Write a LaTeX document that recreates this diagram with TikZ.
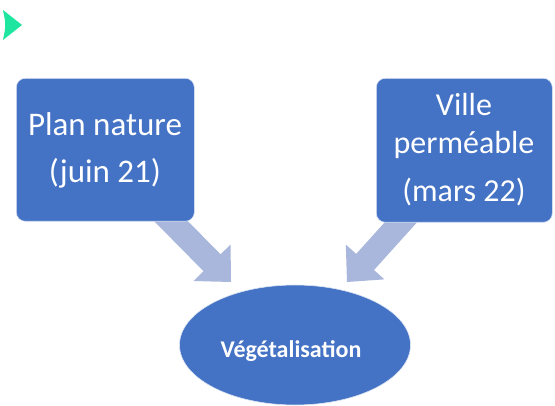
\documentclass[tikz,border=0pt]{standalone}
\usepackage{fontspec}
\setmainfont{Carlito}
\usetikzlibrary{calc,shapes.geometric}
\definecolor{boxblue}{RGB}{68,114,196}
\definecolor{arrowblue}{RGB}{170,183,220}
\definecolor{mint}{RGB}{30,230,160}
\tikzset{
  boxnode/.style={draw=white!80!boxblue, line width=0.6pt, fill=boxblue, rounded corners=9pt},
  boxtext/.style={text=white, anchor=base, inner sep=0pt, font=\fontsize{33}{40}\selectfont},
  boxtextr/.style={text=white, anchor=base, inner sep=0pt, font=\fontsize{32}{38}\selectfont},
  ovalnode/.style={ellipse, fill=boxblue, draw=white!80!boxblue, line width=0.6pt, minimum width=231pt, minimum height=120pt, inner sep=0pt},
  ovaltext/.style={text=white, anchor=base, inner sep=0pt, font=\fontsize{24}{29}\selectfont\bfseries},
  arrowfill/.style={fill=arrowblue}
}
\newcommand\myblockarrow[2]{%
  \coordinate (hh) at ($(#2)!27pt!(#1)$);
  \path[arrowfill] ($(#1)!12pt!90:(#2)$) -- ($(hh)!12pt!90:(#2)$) -- ($(hh)!26pt!90:(#2)$) -- (#2)
    -- ($(hh)!26pt!-90:(#2)$) -- ($(hh)!12pt!-90:(#2)$) -- ($(#1)!12pt!-90:(#2)$) -- cycle;
}
\begin{document}
\begin{tikzpicture}[x=1pt,y=-1pt]
\useasboundingbox (0,0) rectangle (555,406);
% arrow end points
\coordinate (laS) at (160,210);
\coordinate (laT) at (231,282);
\coordinate (raS) at (412,210);
\coordinate (raT) at (347,282);
\myblockarrow{laS}{laT}
\myblockarrow{raS}{raT}
% green marker
\fill[mint] (3,10) .. controls (6,25) .. (3,40) -- (22,25) -- cycle;
% boxes
\node[boxnode, minimum width=178pt, minimum height=143pt, anchor=north west] (left) at (16,78) {};
\node[boxnode, minimum width=176pt, minimum height=144pt, anchor=north west] (right) at (376,78) {};
\node[boxtext] (l1) at (105,136) {Plan nature};
\node[boxtext] (l2) at (105,183) {(juin 21)};
\node[boxtextr] (r1) at (464,116) {Ville};
\node[boxtextr] (r2) at (464,154) {perméable};
\node[boxtextr] (r3) at (464,202) {(mars 22)};
% ellipse
\node[ovalnode] (veg) at (295,345) {};
\node[ovaltext] (vegt) at (291,358) {Végétalisation};
\end{tikzpicture}
\end{document}
